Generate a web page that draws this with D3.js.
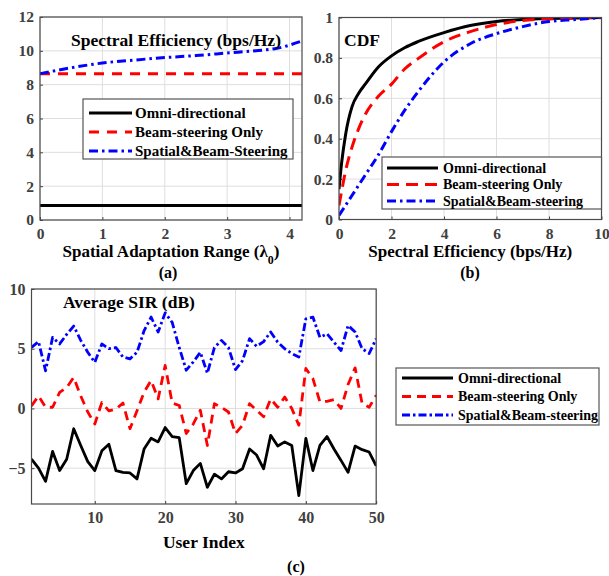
<!DOCTYPE html>
<html>
<head>
<meta charset="utf-8">
<script src="https://cdn.jsdelivr.net/npm/d3@7"></script>
<style>
  html, body { margin: 0; padding: 0; background: #fff; }
  svg { display: block; }
  text { font-family: "Liberation Serif", "Times New Roman", serif; font-weight: bold; }
</style>
</head>
<body>
<svg id="fig" width="609" height="576"></svg>
<script>
// ---------- data ----------
const seriesNames = ["Omni-directional", "Beam-steering Only", "Spatial&Beam-Steering"];
const seriesNamesB = ["Omni-directional", "Beam-steering Only", "Spatial&Beam-steering"];

// (a) spectral efficiency vs spatial adaptation range
const rangeA = [0, 0.5, 1, 1.5, 2, 2.5, 3, 3.5, 3.8, 4.2];
const omniA  = [0.85, 0.85, 0.85, 0.85, 0.85, 0.85, 0.85, 0.85, 0.85, 0.85];
const beamA  = [8.65, 8.65, 8.65, 8.65, 8.65, 8.65, 8.65, 8.65, 8.65, 8.65];
const spatA  = [8.65, 9.0, 9.28, 9.45, 9.6, 9.72, 9.87, 10.02, 10.15, 10.58];
const xTicksA = [0, 1, 2, 3, 4];
const yTicksA = [0, 2, 4, 6, 8, 10, 12];

// (b) CDF of spectral efficiency
const seB   = [0, 0.1, 0.25, 0.5, 0.75, 1, 1.5, 2, 2.5, 3, 4, 5, 6, 7, 8, 9, 10];
const omniB = [0.15, 0.28, 0.42, 0.56, 0.625, 0.67, 0.755, 0.81, 0.85, 0.88, 0.925, 0.96, 0.98, 0.99, 0.995, 0.998, 1.0];
const beamB = [0.07, 0.14, 0.24, 0.36, 0.45, 0.52, 0.61, 0.67, 0.745, 0.795, 0.88, 0.93, 0.965, 0.985, 0.993, 0.997, 1.0];
const spatB = [0.02, 0.04, 0.07, 0.12, 0.17, 0.22, 0.32, 0.435, 0.54, 0.63, 0.78, 0.87, 0.92, 0.955, 0.98, 0.99, 1.0];
const xTicksB = [0, 2, 4, 6, 8, 10];
const yTicksB = [0, 0.2, 0.4, 0.6, 0.8, 1];

// (c) average SIR per user
const users = d3.range(1, 51);
const omniC = [-4.25, -5.0, -6.1, -3.6, -5.2, -4.25, -1.7, -3.1, -4.45, -5.2,
               -3.55, -3.0, -5.2, -5.35, -5.4, -5.9, -3.4, -2.5, -2.8, -1.6,
               -2.35, -2.45, -6.3, -5.2, -4.6, -6.6, -5.5, -5.9, -5.3, -5.4,
               -5.05, -3.4, -3.9, -5.05, -2.25, -3.15, -2.8, -3.1, -7.3, -2.5,
               -5.2, -3.1, -2.35, -3.4, -4.35, -5.35, -3.15, -3.45, -3.65, -4.8];
const beamC = [0.2, 1.05, 0.1, 0.1, 1.35, 1.75, 2.6, 1.05, -0.3, -1.3,
               0.5, -0.2, -0.05, 0.45, -1.7, -0.2, 1.35, 2.35, 0.8, 3.6,
               0.45, 0.25, -2.1, -1.3, -0.15, -3.1, 0.4, 0.1, -0.3, -2.1,
               -1.4, 0.4, -0.15, -0.7, 0.8, 0.1, 0.95, 0.0, -1.4, 3.35,
               2.5, 0.55, 0.6, 0.75, 0.0, 2.0, 3.4, 0.4, 0.1, 1.1];
const spatC = [5.1, 5.6, 3.15, 5.95, 5.4, 6.2, 6.9, 5.7, 4.7, 3.85,
               5.4, 5.0, 5.1, 4.3, 4.15, 4.7, 6.5, 7.65, 6.4, 8.0,
               7.2, 5.1, 3.2, 3.9, 4.7, 2.95, 5.1, 5.7, 5.1, 3.25,
               4.0, 5.85, 5.2, 5.6, 6.4, 5.55, 5.0, 4.6, 4.3, 7.5,
               7.65, 5.95, 6.25, 5.55, 4.85, 6.95, 6.4, 5.0, 4.6, 5.85];
const xTicksC = [10, 20, 30, 40, 50];
const yTicksC = [-5, 0, 5, 10];

// ---------- styles ----------
const colors = ["#000000", "#ff0000", "#0000ff"];
const svg = d3.select("#fig");

function panel(opt) {
  const g = svg.append("g");
  const x = d3.scaleLinear().domain(opt.xDomain).range(opt.xRange);
  const y = d3.scaleLinear().domain(opt.yDomain).range(opt.yRange);
  const [x0, x1] = opt.xRange, [y0, y1] = opt.yRange;

  // grid
  g.append("g").selectAll("line").data(opt.xTicks).join("line")
    .attr("x1", d => x(d)).attr("x2", d => x(d)).attr("y1", y0).attr("y2", y1)
    .attr("stroke", "#dedede").attr("stroke-width", 1);
  g.append("g").selectAll("line").data(opt.yTicks).join("line")
    .attr("x1", x0).attr("x2", x1).attr("y1", d => y(d)).attr("y2", d => y(d))
    .attr("stroke", "#dedede").attr("stroke-width", 1);

  // axes with inward ticks
  const ax = g.append("g").attr("transform", `translate(0,${y0})`)
    .call(d3.axisBottom(x).tickValues(opt.xTicks).tickSize(-3).tickPadding(8).tickFormat(opt.xFmt || d3.format("d")));
  const ay = g.append("g").attr("transform", `translate(${x0},0)`)
    .call(d3.axisLeft(y).tickValues(opt.yTicks).tickSize(-3).tickPadding(6).tickFormat(opt.yFmt || d3.format("d")));
  [ax, ay].forEach(a => {
    a.select(".domain").remove();
    a.selectAll(".tick line").attr("stroke", "#444");
    a.selectAll(".tick text").attr("fill", "#404040")
      .style("font-size", opt.tickSize + "px").style("font-family", "Liberation Serif, serif").style("font-weight", "bold");
  });

  // series
  const clipId = "clip" + opt.id;
  g.append("clipPath").attr("id", clipId).append("rect")
    .attr("x", x0).attr("y", y1).attr("width", x1 - x0).attr("height", y0 - y1);
  opt.series.forEach((s, i) => {
    const line = d3.line().x((d, k) => x(s.xs[k])).y(d => y(d)).curve(opt.curve || d3.curveLinear);
    g.append("path").datum(s.ys)
      .attr("clip-path", `url(#${clipId})`)
      .attr("d", line)
      .attr("fill", "none")
      .attr("stroke", colors[i])
      .attr("stroke-width", opt.lw)
      .attr("stroke-linejoin", "round")
      .attr("stroke-dasharray", opt.dash[i]);
  });

  // box
  g.append("rect").attr("x", x0).attr("y", y1).attr("width", x1 - x0).attr("height", y0 - y1)
    .attr("fill", "none").attr("stroke", "#4a4a4a").attr("stroke-width", 1.2);

  // title inside plot
  g.append("text").attr("x", opt.title.x).attr("y", opt.title.y)
    .style("font-size", opt.title.size + "px").attr("fill", "#000").text(opt.title.text);

  // axis label
  const t = g.append("text").attr("x", (x0 + x1) / 2).attr("y", opt.xLabel.y)
    .attr("text-anchor", "middle").style("font-size", opt.xLabel.size + "px");
  opt.xLabel.parts.forEach(p => {
    const ts = t.append("tspan").text(p.text);
    if (p.sub) ts.attr("baseline-shift", "sub").style("font-size", (opt.xLabel.size * 0.7) + "px");
  });

  // panel tag
  g.append("text").attr("x", opt.tag.x).attr("y", opt.tag.y).attr("text-anchor", "middle")
    .style("font-size", "16px").text(opt.tag.text);

  // legend
  const L = opt.legend;
  const lg = g.append("g");
  lg.append("rect").attr("x", L.x).attr("y", L.y).attr("width", L.w).attr("height", L.h)
    .attr("fill", "#fff").attr("stroke", "#555").attr("stroke-width", 1.2);
  L.names.forEach((n, i) => {
    const cy = L.y + L.row0 + i * L.dy;
    lg.append("line").attr("x1", L.x + L.l0).attr("x2", L.x + L.l1).attr("y1", cy).attr("y2", cy)
      .attr("stroke", colors[i]).attr("stroke-width", opt.lw).attr("stroke-dasharray", opt.dash[i]);
    lg.append("text").attr("x", L.x + L.tx).attr("y", cy + L.size * 0.33)
      .style("font-size", L.size + "px").attr("fill", "#000").text(n);
  });
}

// (a)
panel({
  id: "a",
  xDomain: [0, 4.2], xRange: [40, 302],
  yDomain: [0, 12], yRange: [220, 17],
  xTicks: xTicksA, yTicks: yTicksA, tickSize: 15.5,
  lw: 3, dash: [null, "10,8", "9,4,2.5,4"],
  curve: d3.curveMonotoneX,
  series: [
    { xs: rangeA, ys: omniA },
    { xs: rangeA, ys: beamA },
    { xs: rangeA, ys: spatA }
  ],
  title: { text: "Spectral Efficiency (bps/Hz)", x: 71, y: 46, size: 17.5 },
  xLabel: { y: 257, size: 17, parts: [{ text: "Spatial Adaptation Range (λ" }, { text: "0", sub: true }, { text: ")" }] },
  tag: { text: "(a)", x: 168, y: 278 },
  legend: { x: 83, y: 99, w: 210, h: 60, row0: 14, dy: 19, l0: 6, l1: 49, tx: 52, size: 15, names: seriesNames }
});

// (b)
panel({
  id: "b",
  xDomain: [0, 10], xRange: [339, 601.5],
  yDomain: [0, 1], yRange: [219.5, 17.5],
  xTicks: xTicksB, yTicks: yTicksB, tickSize: 15.5,
  yFmt: d => d === 0 || d === 1 ? d3.format("d")(d) : d3.format(".1f")(d),
  lw: 3, dash: [null, "12,7", "9,4,2.5,4"],
  curve: d3.curveMonotoneX,
  series: [
    { xs: seB, ys: omniB },
    { xs: seB, ys: beamB },
    { xs: seB, ys: spatB }
  ],
  title: { text: "CDF", x: 344, y: 46, size: 17.5 },
  xLabel: { y: 257, size: 17, parts: [{ text: "Spectral Efficiency (bps/Hz)" }] },
  tag: { text: "(b)", x: 470, y: 278 },
  legend: { x: 382, y: 157, w: 219.5, h: 52, row0: 11, dy: 16.5, l0: 5, l1: 56, tx: 61, size: 14, names: seriesNamesB }
});

// (c)
panel({
  id: "c",
  xDomain: [1, 50], xRange: [31.5, 376.2],
  yDomain: [-8, 10], yRange: [504, 289],
  xTicks: xTicksC, yTicks: yTicksC, tickSize: 16,
  lw: 2.8, dash: [null, "9,6", "8,3,2.5,3"],
  series: [
    { xs: users, ys: omniC },
    { xs: users, ys: beamC },
    { xs: users, ys: spatC }
  ],
  title: { text: "Average SIR (dB)", x: 63, y: 308, size: 17.5 },
  xLabel: { y: 548, size: 17.5, parts: [{ text: "User Index" }] },
  tag: { text: "(c)", x: 296, y: 572 },
  legend: { x: 396, y: 368, w: 203, h: 57, row0: 10, dy: 18.5, l0: 6, l1: 57, tx: 62, size: 14, names: seriesNamesB }
});
</script>
</body>
</html>
